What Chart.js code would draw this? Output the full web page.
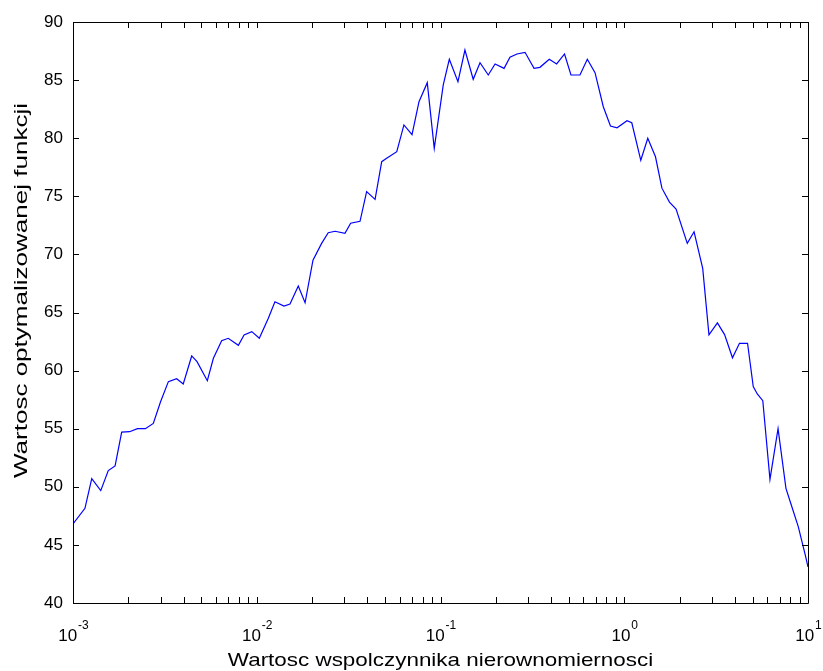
<!DOCTYPE html>
<html>
<head>
<meta charset="utf-8">
<script src="https://cdn.jsdelivr.net/npm/chart.js@4"></script>
<style>
  html, body { margin: 0; padding: 0; background: #fff; }
</style>
</head>
<body>
<canvas id="chart" width="823" height="671"></canvas>
<script>
// x positions as powers of ten, y = function value
const xExp = [
  -3.000, -2.935, -2.898, -2.849, -2.808, -2.771, -2.735, -2.692, -2.649, -2.606,
  -2.563, -2.524, -2.481, -2.436, -2.400, -2.354, -2.325, -2.269, -2.236, -2.191,
  -2.155, -2.100, -2.069, -2.027, -1.986, -1.937, -1.901, -1.852, -1.819, -1.774,
  -1.737, -1.694, -1.647, -1.611, -1.574, -1.520, -1.489, -1.438, -1.402, -1.356,
  -1.320, -1.293, -1.238, -1.199, -1.155, -1.117, -1.072, -1.034, -0.985, -0.952,
  -0.905, -0.867, -0.822, -0.785, -0.740, -0.703, -0.654, -0.622, -0.584, -0.540,
  -0.491, -0.459, -0.408, -0.368, -0.325, -0.290, -0.241, -0.201, -0.159, -0.114,
  -0.075, -0.039, 0.015, 0.041, 0.090, 0.128, 0.170, 0.205, 0.246, 0.282,
  0.343, 0.380, 0.427, 0.461, 0.507, 0.546, 0.589, 0.627, 0.671, 0.702,
  0.724, 0.754, 0.793, 0.837, 0.880, 0.906, 0.947, 0.984, 1.000
];
const yValues = [
  46.8, 48.15, 50.7, 49.67, 51.4, 51.8, 54.7, 54.74, 55.0, 55.0,
  55.45, 57.3, 59.05, 59.3, 58.85, 61.26, 60.77, 59.13, 61.06, 62.57,
  62.78, 62.18, 63.06, 63.35, 62.78, 64.5, 65.93, 65.56, 65.73, 67.28,
  65.84, 69.5, 70.95, 71.87, 71.99, 71.82, 72.68, 72.85, 75.4, 74.74,
  77.98, 78.27, 78.84, 81.14, 80.3, 83.14, 84.78, 79.13, 84.58, 86.79,
  84.86, 87.59, 85.07, 86.5, 85.44, 86.39, 86.01, 86.96, 87.25, 87.39,
  86.01, 86.1, 86.79, 86.39, 87.25, 85.44, 85.44, 86.79, 85.64, 82.71,
  81.05, 80.9, 81.5, 81.33, 78.1, 79.99, 78.4, 75.7, 74.5, 73.9,
  70.95, 71.95, 68.8, 63.08, 64.1, 63.1, 61.1, 62.35, 62.35, 58.62,
  57.99, 57.41, 50.64, 55.0, 49.87, 48.58, 46.57, 44.2, 43.1
];
const xDecades = [-3, -2, -1, 0, 1];
const yTicks = [40, 45, 50, 55, 60, 65, 70, 75, 80, 85, 90];
const xTitle = 'Wartosc wspolczynnika nierownomiernosci';
const yTitle = 'Wartosc optymalizowanej funkcji';

const FONT = '"Liberation Sans", Arial, sans-serif';

// draws a string stretched horizontally (the original uses a wide screen font)
function wideText(ctx, text, x, y, sx) {
  ctx.save();
  ctx.translate(x, y);
  ctx.scale(sx, 1);
  ctx.fillText(text, 0, 0);
  ctx.restore();
}

// MATLAB-like box with inward ticks, drawn from the chart's scales
const matlabAxes = {
  id: 'matlabAxes',
  afterDraw(chart) {
    const { ctx, chartArea: a, scales: { x, y } } = chart;
    const tl = 6;
    ctx.save();
    ctx.strokeStyle = '#000';
    ctx.lineWidth = 1;
    ctx.beginPath();
    ctx.rect(Math.round(a.left) + 0.5, Math.round(a.top) + 0.5,
             Math.round(a.right - a.left), Math.round(a.bottom - a.top));
    const seg = (x1, y1, x2, y2) => { ctx.moveTo(x1, y1); ctx.lineTo(x2, y2); };
    // x ticks (major + minor) on bottom and top
    for (let d = xDecades[0]; d <= xDecades[xDecades.length - 1]; d++) {
      for (let m = 1; m <= 9; m++) {
        const v = m * Math.pow(10, d);
        if (v > Math.pow(10, xDecades[xDecades.length - 1])) break;
        const px = Math.round(x.getPixelForValue(v)) + 0.5;
        seg(px, a.bottom, px, a.bottom - tl);
        seg(px, a.top, px, a.top + tl);
      }
    }
    // y ticks on left and right
    yTicks.forEach(t => {
      const py = Math.round(y.getPixelForValue(t)) + 0.5;
      seg(a.left, py, a.left + tl, py);
      seg(a.right, py, a.right - tl, py);
    });
    ctx.stroke();

    ctx.fillStyle = '#000';
    // y tick labels
    ctx.font = '17px ' + FONT;
    ctx.textAlign = 'right';
    ctx.textBaseline = 'middle';
    yTicks.forEach(t => ctx.fillText(String(t), a.left - 10, y.getPixelForValue(t)));

    // x tick labels 10^n
    xDecades.forEach(d => {
      const px = x.getPixelForValue(Math.pow(10, d));
      ctx.font = '17px ' + FONT;
      const wb = ctx.measureText('10').width;
      ctx.font = '12px ' + FONT;
      const exp = String(d);
      const we = ctx.measureText(exp).width;
      const left = px - (wb + we) / 2;
      ctx.textAlign = 'left';
      ctx.textBaseline = 'alphabetic';
      ctx.font = '17px ' + FONT;
      ctx.fillText('10', left, a.bottom + 38);
      ctx.font = '12px ' + FONT;
      ctx.fillText(exp, left + wb + 1, a.bottom + 26);
    });

    // axis titles
    ctx.font = '19px ' + FONT;
    ctx.textAlign = 'center';
    ctx.textBaseline = 'alphabetic';
    wideText(ctx, xTitle, (a.left + a.right) / 2, a.bottom + 63, 1.18);
    ctx.save();
    ctx.translate(27, (a.top + a.bottom) / 2 - 22);
    ctx.rotate(-Math.PI / 2);
    wideText(ctx, yTitle, 0, 0, 1.37);
    ctx.restore();
    ctx.restore();
  }
};

new Chart(document.getElementById('chart'), {
  type: 'line',
  data: {
    datasets: [{
      data: xExp.map((e, i) => ({ x: Math.pow(10, e), y: yValues[i] })),
      borderColor: '#0000ff',
      borderWidth: 1.2,
      pointRadius: 0,
      tension: 0,
      fill: false
    }]
  },
  options: {
    responsive: false,
    animation: false,
    devicePixelRatio: 1,
    layout: { padding: { left: 73, right: 15, top: 22, bottom: 68 } },
    plugins: { legend: { display: false }, tooltip: { enabled: false } },
    scales: {
      x: { type: 'logarithmic', min: 0.001, max: 10, display: false },
      y: { type: 'linear', min: 40, max: 90, display: false }
    }
  },
  plugins: [matlabAxes]
});
</script>
</body>
</html>
